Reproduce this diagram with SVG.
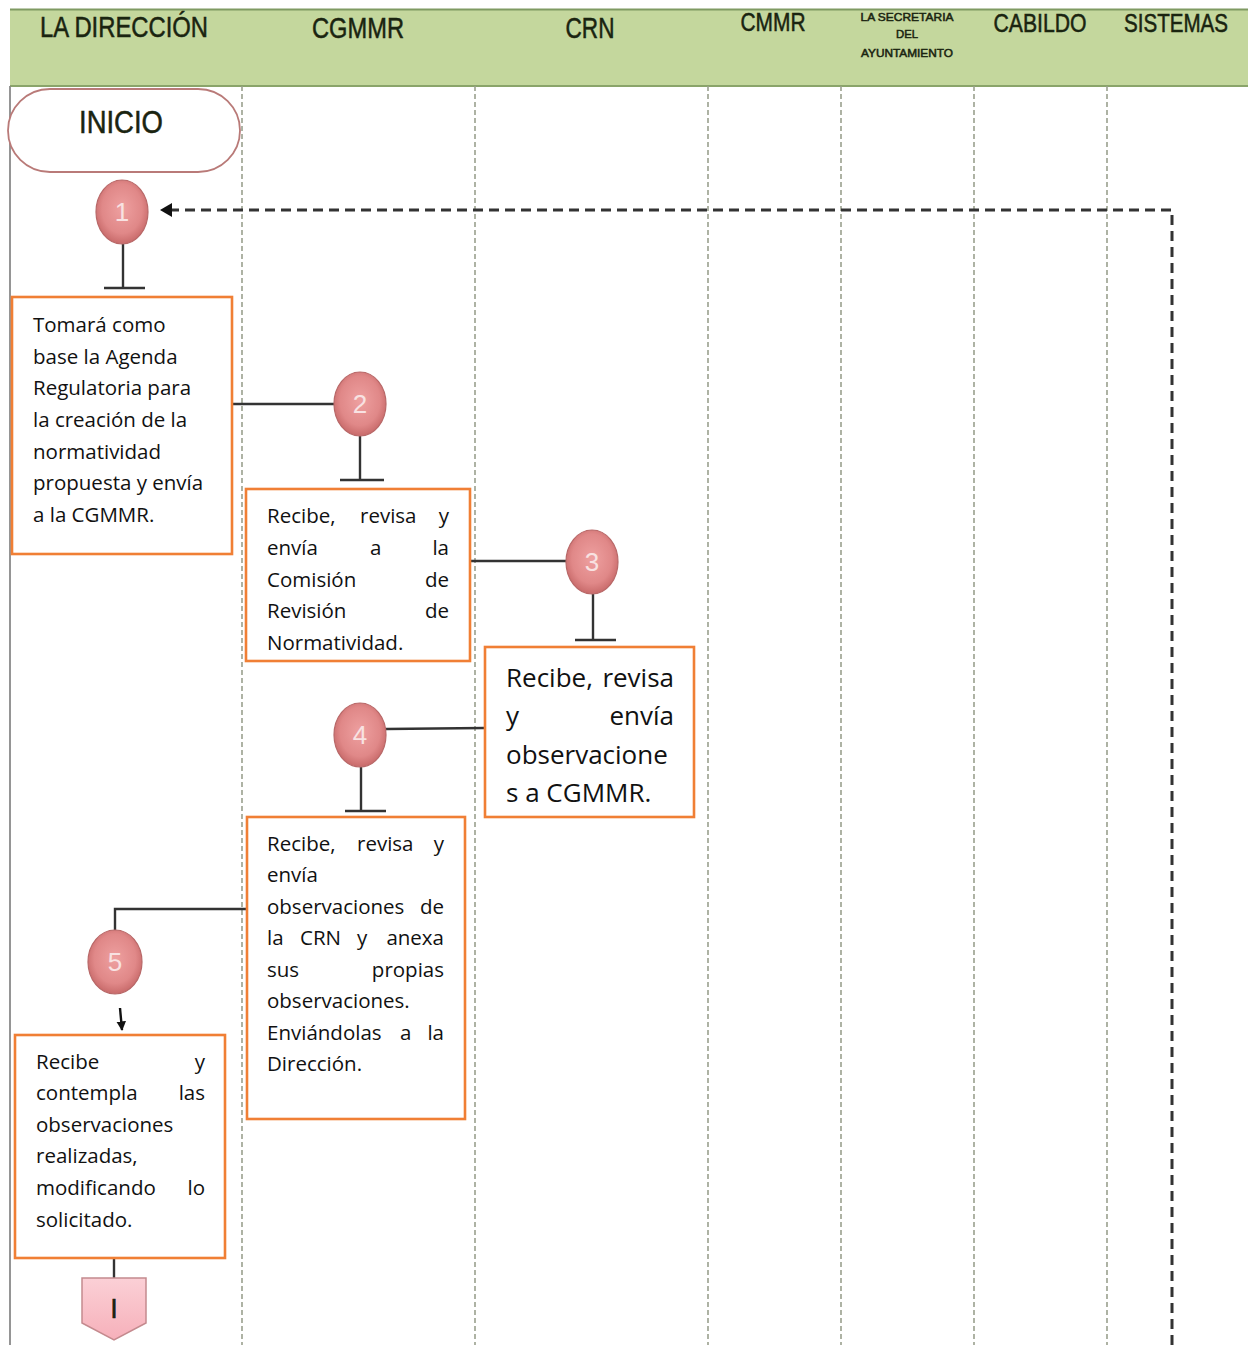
<svg xmlns="http://www.w3.org/2000/svg" width="1248" height="1345" viewBox="0 0 1248 1345">
  <defs>
    <radialGradient id="ballFill" cx="50%" cy="45%" r="55%">
      <stop offset="0%" stop-color="#eea0a0"/>
      <stop offset="70%" stop-color="#e08888"/>
      <stop offset="100%" stop-color="#c86a6a"/>
    </radialGradient>
    <linearGradient id="pageFill" x1="0" y1="0" x2="0" y2="1">
      <stop offset="0%" stop-color="#fbd0d6"/>
      <stop offset="100%" stop-color="#f6b0ba"/>
    </linearGradient>
    <marker id="arrowHead" viewBox="0 0 10 10" refX="9" refY="5" markerWidth="4" markerHeight="4" orient="auto">
      <path d="M0,0 L10,5 L0,10 z" fill="#111"/>
    </marker>
    <style>
      .lane { stroke: #9aa08e; stroke-width: 1.6; stroke-dasharray: 5 3; fill: none; }
      .head { font-family: "Liberation Sans", Arial, sans-serif; fill: #1a2410; stroke: #1a2410; stroke-width: 0.5; text-anchor: middle; }
      .box { fill: #ffffff; stroke: #f07f35; stroke-width: 2.6; }
      .ball { fill: url(#ballFill); stroke: #b86868; stroke-width: 1.2; }
      .num { font-family: "Liberation Sans", Arial, sans-serif; font-size: 26px; fill: #f8e2e2; text-anchor: middle; }
      .wire { stroke: #333; stroke-width: 2.4; fill: none; }
      .txt { font-family: "Open Sans", "Noto Sans", sans-serif; font-size: 20.5px; fill: #111; }
      .big { font-family: "Open Sans", "Noto Sans", sans-serif; font-size: 26px; fill: #111; }
      .end { text-anchor: end; }
    </style>
  </defs>

  <rect x="0" y="0" width="1248" height="1345" fill="#ffffff"/>

  <!-- header band with lane titles -->
  <g id="header">
    <rect x="10" y="9" width="1238" height="77" fill="#c4d79d"/>
    <line x1="10" y1="9.5" x2="1248" y2="9.5" stroke="#7f9a62" stroke-width="2"/>
    <line x1="10" y1="86" x2="1248" y2="86" stroke="#8aa46a" stroke-width="2"/>
    <text class="head" x="124" y="37" font-size="29" textLength="168" lengthAdjust="spacingAndGlyphs">LA DIRECCIÓN</text>
    <text class="head" x="358" y="38" font-size="29" textLength="92" lengthAdjust="spacingAndGlyphs">CGMMR</text>
    <text class="head" x="590" y="38" font-size="29" textLength="49" lengthAdjust="spacingAndGlyphs">CRN</text>
    <text class="head" x="773" y="31" font-size="25" textLength="65" lengthAdjust="spacingAndGlyphs">CMMR</text>
    <text class="head" x="907" y="21" font-size="11" textLength="93" lengthAdjust="spacingAndGlyphs" stroke-width="0.3">LA SECRETARIA</text>
    <text class="head" x="907" y="38" font-size="11" textLength="22" lengthAdjust="spacingAndGlyphs" stroke-width="0.3">DEL</text>
    <text class="head" x="907" y="57" font-size="11" textLength="92" lengthAdjust="spacingAndGlyphs" stroke-width="0.3">AYUNTAMIENTO</text>
    <text class="head" x="1040" y="32" font-size="25" textLength="93" lengthAdjust="spacingAndGlyphs">CABILDO</text>
    <text class="head" x="1176" y="32" font-size="25" textLength="104" lengthAdjust="spacingAndGlyphs">SISTEMAS</text>
  </g>

  <!-- lane separators -->
  <g id="lanes">
    <line x1="10" y1="86" x2="10" y2="1345" stroke="#8a8a8a" stroke-width="1.8"/>
    <line class="lane" x1="242" y1="86" x2="242" y2="1345"/>
    <line class="lane" x1="475" y1="86" x2="475" y2="1345"/>
    <line class="lane" x1="708" y1="86" x2="708" y2="1345"/>
    <line class="lane" x1="841" y1="86" x2="841" y2="1345"/>
    <line class="lane" x1="974" y1="86" x2="974" y2="1345"/>
    <line class="lane" x1="1107" y1="86" x2="1107" y2="1345"/>
  </g>

  <!-- connectors -->
  <g id="connectors">
    <!-- return loop from the right -->
    <path d="M1172,1345 L1172,210 L166,210" fill="none" stroke="#333" stroke-width="3" stroke-dasharray="10 6"/>
    <path d="M160,210 L172,203 L172,217 z" fill="#111"/>
    <!-- step 1 tail -->
    <line class="wire" x1="123" y1="244" x2="123" y2="288"/>
    <line class="wire" x1="104" y1="288" x2="145" y2="288"/>
    <!-- box 1 to step 2 -->
    <line class="wire" x1="232" y1="404" x2="334" y2="404"/>
    <line class="wire" x1="360" y1="436" x2="360" y2="480"/>
    <line class="wire" x1="340" y1="480" x2="384" y2="480"/>
    <!-- box 2 to step 3 -->
    <line class="wire" x1="470" y1="561" x2="566" y2="561"/>
    <line class="wire" x1="593" y1="594" x2="593" y2="640"/>
    <line class="wire" x1="575" y1="640" x2="616" y2="640"/>
    <!-- box 3 to step 4 -->
    <line class="wire" x1="484" y1="728" x2="386" y2="729"/>
    <line class="wire" x1="361" y1="767" x2="361" y2="811"/>
    <line class="wire" x1="345" y1="811" x2="386" y2="811"/>
    <!-- box 4 to step 5 -->
    <path class="wire" d="M246,909 L115,909 L115,930"/>
    <line x1="120" y1="1008" x2="122" y2="1030" stroke="#111" stroke-width="2.4" marker-end="url(#arrowHead)"/>
    <!-- box 5 to page connector -->
    <line class="wire" x1="114" y1="1258" x2="114" y2="1278"/>
  </g>

  <g id="inicio">
    <rect x="8" y="89" width="232" height="83" rx="42" ry="42" fill="#ffffff" stroke="#b97a78" stroke-width="1.8"/>
    <text class="head" x="121" y="133" font-size="31" textLength="84" lengthAdjust="spacingAndGlyphs" fill="#222" stroke="#222">INICIO</text>
  </g>

  <g id="step1">
    <ellipse class="ball" cx="122" cy="212" rx="26" ry="32"/>
    <text class="num" x="122" y="221">1</text>
  </g>

  <g id="box1">
    <rect class="box" x="12" y="297" width="220" height="257"/>
    <text class="txt">
      <tspan x="33" y="332">Tomará como</tspan>
      <tspan x="33" y="364">base la Agenda</tspan>
      <tspan x="33" y="395">Regulatoria para</tspan>
      <tspan x="33" y="427">la creación de la</tspan>
      <tspan x="33" y="459">normatividad</tspan>
      <tspan x="33" y="490">propuesta y envía</tspan>
      <tspan x="33" y="522">a la CGMMR.</tspan>
    </text>
  </g>

  <g id="step2">
    <ellipse class="ball" cx="360" cy="404" rx="26" ry="32"/>
    <text class="num" x="360" y="413">2</text>
  </g>

  <g id="box2">
    <rect class="box" x="246" y="489" width="224" height="172"/>
    <text class="txt"><tspan x="267" y="523">Recibe,</tspan><tspan x="360" y="523">revisa</tspan></text>
    <text class="txt end" x="449" y="523">y</text>
    <text class="txt"><tspan x="267" y="555">envía</tspan><tspan x="370" y="555">a</tspan></text>
    <text class="txt end" x="449" y="555">la</text>
    <text class="txt" x="267" y="587">Comisión</text>
    <text class="txt end" x="449" y="587">de</text>
    <text class="txt" x="267" y="618">Revisión</text>
    <text class="txt end" x="449" y="618">de</text>
    <text class="txt" x="267" y="650">Normatividad.</text>
  </g>

  <g id="step3">
    <ellipse class="ball" cx="592" cy="562" rx="26" ry="32"/>
    <text class="num" x="592" y="571">3</text>
  </g>

  <g id="box3">
    <rect class="box" x="485" y="647" width="209" height="170"/>
    <text class="big" x="506" y="687">Recibe,</text>
    <text class="big end" x="674" y="687">revisa</text>
    <text class="big" x="506" y="725">y</text>
    <text class="big end" x="674" y="725">envía</text>
    <text class="big" x="506" y="764">observacione</text>
    <text class="big" x="506" y="802">s a CGMMR.</text>
  </g>

  <g id="step4">
    <ellipse class="ball" cx="360" cy="735" rx="26" ry="32"/>
    <text class="num" x="360" y="744">4</text>
  </g>

  <g id="box4">
    <rect class="box" x="247" y="817" width="218" height="302"/>
    <text class="txt"><tspan x="267" y="851">Recibe,</tspan><tspan x="357" y="851">revisa</tspan></text>
    <text class="txt end" x="444" y="851">y</text>
    <text class="txt" x="267" y="882">envía</text>
    <text class="txt" x="267" y="914">observaciones</text>
    <text class="txt end" x="444" y="914">de</text>
    <text class="txt"><tspan x="267" y="945">la</tspan><tspan x="300" y="945">CRN</tspan><tspan x="357" y="945">y</tspan></text>
    <text class="txt end" x="444" y="945">anexa</text>
    <text class="txt" x="267" y="977">sus</text>
    <text class="txt end" x="444" y="977">propias</text>
    <text class="txt" x="267" y="1008">observaciones.</text>
    <text class="txt"><tspan x="267" y="1040">Enviándolas</tspan><tspan x="400" y="1040">a</tspan></text>
    <text class="txt end" x="444" y="1040">la</text>
    <text class="txt" x="267" y="1071">Dirección.</text>
  </g>

  <g id="step5">
    <ellipse class="ball" cx="115" cy="962" rx="27" ry="32"/>
    <text class="num" x="115" y="971">5</text>
  </g>

  <g id="box5">
    <rect class="box" x="15" y="1035" width="210" height="223"/>
    <text class="txt" x="36" y="1069">Recibe</text>
    <text class="txt end" x="205" y="1069">y</text>
    <text class="txt" x="36" y="1100">contempla</text>
    <text class="txt end" x="205" y="1100">las</text>
    <text class="txt" x="36" y="1132">observaciones</text>
    <text class="txt" x="36" y="1163">realizadas,</text>
    <text class="txt" x="36" y="1195">modificando</text>
    <text class="txt end" x="205" y="1195">lo</text>
    <text class="txt" x="36" y="1227">solicitado.</text>
  </g>

  <g id="pageConnector">
    <path d="M82,1278 L146,1278 L146,1323 L114,1340 L82,1323 z" fill="url(#pageFill)" stroke="#c48a8e" stroke-width="1.5"/>
    <text class="head" x="114" y="1318" font-size="27" fill="#111" stroke="#111">I</text>
  </g>
</svg>
